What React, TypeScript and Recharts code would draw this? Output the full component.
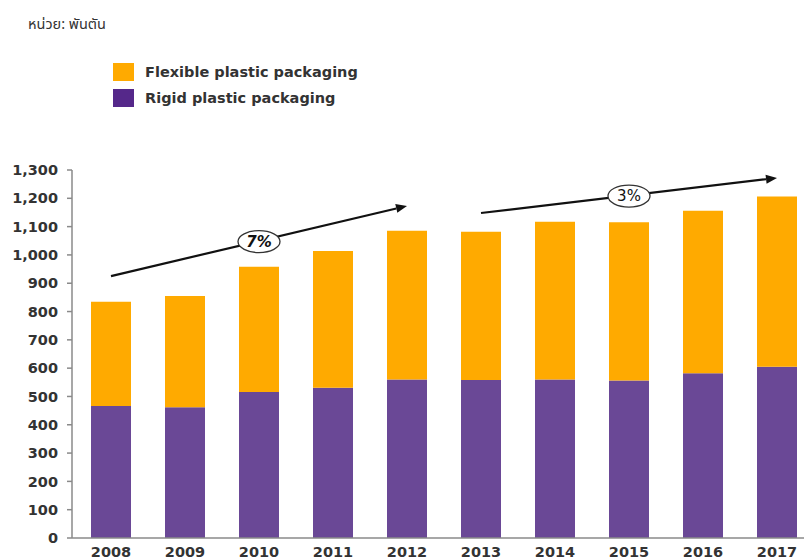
import React from "react";
import {
  BarChart,
  Bar,
  XAxis,
  YAxis,
  ReferenceLine,
  ReferenceDot,
} from "recharts";

// values in thousand tonnes
const years = ["2008", "2009", "2010", "2011", "2012", "2013", "2014", "2015", "2016", "2017"];
const rigid = [466, 462, 516, 531, 560, 558, 560, 556, 582, 605];
const flexible = [369, 393, 442, 483, 525, 524, 557, 559, 574, 601];
const yTicks = [0, 100, 200, 300, 400, 500, 600, 700, 800, 900, 1000, 1100, 1200, 1300];

const seriesNames = ["Flexible plastic packaging", "Rigid plastic packaging"];
const unitLabel = "หน่วย: พันตัน";

// growth arrows: start/end year + value, label placed on a year
const trendFrom = ["2008", "2013"];
const trendFromValue = [925, 1148];
const trendTo = ["2012", "2017"];
const trendToValue = [1173, 1272];
const trendLabel = ["7%", "3%"];
const trendLabelAt = ["2010", "2015"];
const trendLabelValue = [1047, 1208];

const ORANGE = "#FFAA00";
const PURPLE = "#6A4896";
const PURPLE_DARK = "#55288A";
const AXIS = "#8a8a8a";
const FONT = "'DejaVu Sans', Verdana, sans-serif";

const data = years.map((year, i) => ({
  year,
  rigid: rigid[i],
  flexible: flexible[i],
}));

const Arrow = (props: any) => {
  const { x1, y1, x2, y2 } = props;
  const a = Math.atan2(y2 - y1, x2 - x1);
  const len = 11;
  const w = 4.5;
  const bx = x2 - len * Math.cos(a);
  const by = y2 - len * Math.sin(a);
  const px = -Math.sin(a) * w;
  const py = Math.cos(a) * w;
  return (
    <g>
      <line x1={x1} y1={y1} x2={bx} y2={by} stroke="#111" strokeWidth={2.2} />
      <polygon
        points={`${x2},${y2} ${bx + px},${by + py} ${bx - px},${by - py}`}
        fill="#111"
      />
    </g>
  );
};

const makeBadge = (text: string, bold: boolean) => (props: any) => {
  const { cx, cy } = props;
  return (
    <g>
      <ellipse cx={cx} cy={cy} rx={21} ry={11} fill="#fff" stroke="#333" strokeWidth={1.3} />
      <text
        x={cx}
        y={cy}
        dy="0.36em"
        textAnchor="middle"
        fontFamily={FONT}
        fontSize={15}
        fontWeight={bold ? 700 : 400}
        fontStyle={bold ? "italic" : "normal"}
        fill="#111"
      >
        {text}
      </text>
    </g>
  );
};

export default function App() {
  const legendColors = [ORANGE, PURPLE_DARK];
  return (
    <div
      style={{
        position: "absolute",
        left: 0,
        top: 0,
        width: 804,
        height: 560,
        overflow: "hidden",
        background: "#fff",
      }}
    >
      <div
        style={{
          position: "absolute",
          left: 28,
          top: 14,
          fontFamily: "Tahoma, 'Noto Sans Thai', 'Noto Sans', sans-serif",
          fontSize: 14.5,
          color: "#333",
        }}
      >
        {unitLabel}
      </div>
      <div style={{ position: "absolute", left: 113, top: 59 }}>
        {seriesNames.map((name, i) => (
          <div
            key={name}
            style={{ display: "flex", alignItems: "center", height: 26 }}
          >
            <span
              style={{
                display: "inline-block",
                width: 21,
                height: 18,
                background: legendColors[i],
                marginRight: 11,
              }}
            />
            <span
              style={{
                fontFamily: FONT,
                fontWeight: 700,
                fontSize: 14.5,
                color: "#333",
              }}
            >
              {name}
            </span>
          </div>
        ))}
      </div>
      <div style={{ position: "absolute", left: 0, top: 0 }}>
        <BarChart
          width={814}
          height={560}
          data={data}
          margin={{ top: 170, right: 0, bottom: 0, left: 0 }}
          barSize={40}
        >
          <XAxis
            dataKey="year"
            height={22}
            padding={{ left: 2, right: 0 }}
            stroke={AXIS}
            strokeWidth={1.5}
            tickLine={false}
            tickSize={0}
            tickMargin={9}
            tick={{ fontFamily: FONT, fontWeight: 700, fontSize: 14.5, fill: "#333" }}
          />
          <YAxis
            width={72}
            domain={[0, 1300]}
            ticks={yTicks}
            interval={0}
            stroke={AXIS}
            strokeWidth={1.5}
            tickSize={5}
            tickMargin={9}
            tickFormatter={(v: number) => v.toLocaleString("en-US")}
            tick={{ fontFamily: FONT, fontWeight: 700, fontSize: 14.5, fill: "#333" }}
          />
          <Bar dataKey="rigid" stackId="a" fill={PURPLE} isAnimationActive={false} />
          <Bar dataKey="flexible" stackId="a" fill={ORANGE} isAnimationActive={false} />
          {trendLabel.map((label, i) => (
            <ReferenceLine
              key={"arrow" + label}
              segment={[
                { x: trendFrom[i], y: trendFromValue[i] },
                { x: trendTo[i], y: trendToValue[i] },
              ]}
              ifOverflow="visible"
              shape={Arrow}
            />
          ))}
          {trendLabel.map((label, i) => (
            <ReferenceDot
              key={"badge" + label}
              x={trendLabelAt[i]}
              y={trendLabelValue[i]}
              ifOverflow="visible"
              shape={makeBadge(label, i === 0)}
            />
          ))}
        </BarChart>
      </div>
    </div>
  );
}
